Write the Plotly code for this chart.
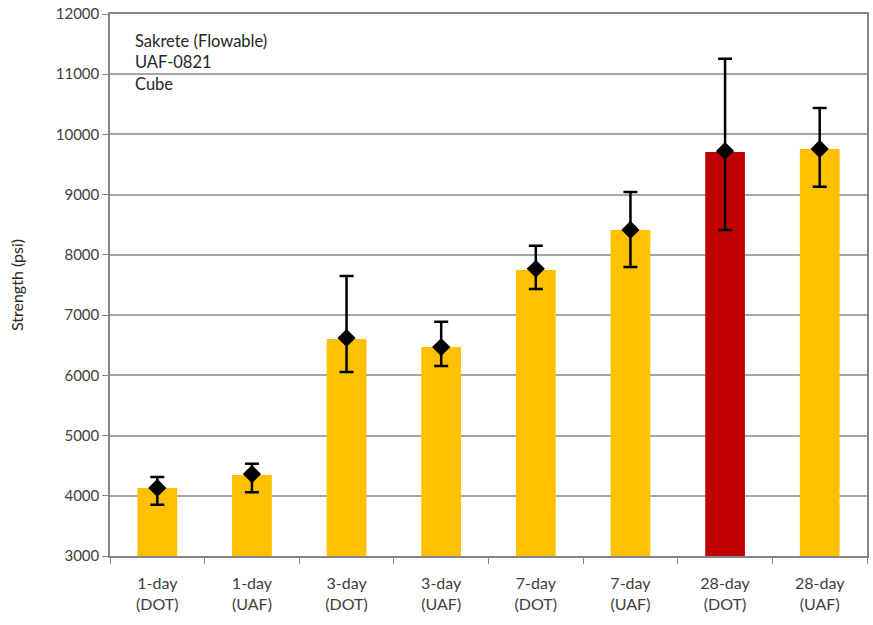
import plotly.graph_objects as go

categories = ["1-day<br>(DOT)", "1-day<br>(UAF)", "3-day<br>(DOT)", "3-day<br>(UAF)",
              "7-day<br>(DOT)", "7-day<br>(UAF)", "28-day<br>(DOT)", "28-day<br>(UAF)"]
bar_values = [4130, 4345, 6605, 6470, 7750, 8415, 9710, 9760]
mean_values = [4130, 4360, 6620, 6470, 7770, 8415, 9725, 9760]
upper_values = [4310, 4530, 7650, 6890, 8150, 9045, 11255, 10440]
lower_values = [3850, 4060, 6055, 6155, 7435, 7800, 8415, 9130]
bar_colors = ["#FFC000", "#FFC000", "#FFC000", "#FFC000",
              "#FFC000", "#FFC000", "#C00000", "#FFC000"]
y_ticks = [3000, 4000, 5000, 6000, 7000, 8000, 9000, 10000, 11000, 12000]
y_tick_labels = [str(v) for v in y_ticks]

err_plus = [u - m for u, m in zip(upper_values, mean_values)]
err_minus = [m - l for m, l in zip(mean_values, lower_values)]

font_family = "Lato, 'Open Sans', sans-serif"

fig = go.Figure()
fig.add_trace(go.Bar(
    x=categories, y=bar_values, base=0,
    marker=dict(color=bar_colors, line=dict(width=0)),
    showlegend=False, hoverinfo="skip",
))
fig.add_trace(go.Scatter(
    x=categories, y=mean_values, mode="markers",
    marker=dict(symbol="diamond", size=14, color="black"),
    error_y=dict(type="data", symmetric=False, array=err_plus, arrayminus=err_minus,
                 color="black", thickness=2.5, width=7),
    showlegend=False,
))

fig.update_layout(
    width=873, height=625,
    margin=dict(l=110, r=6, t=14, b=69, autoexpand=False),
    paper_bgcolor="white", plot_bgcolor="white",
    bargap=0.58,
    font=dict(family=font_family, size=16, color="#404040"),
    xaxis=dict(
        type="category", tickson="boundaries", ticks="outside", ticklen=6,
        tickcolor="#868686", showline=True, linecolor="#868686", linewidth=1.5,
        mirror=True, showgrid=False, tickfont=dict(size=16, color="#404040"),
        ticklabelstandoff=12, automargin=False,
    ),
    yaxis=dict(
        range=[3000, 12000], tickvals=y_ticks, ticktext=y_tick_labels,
        ticks="outside", ticklen=6, ticklabeloverflow="allow",
        tickcolor="#868686", showline=True, linecolor="#868686", linewidth=1.5,
        mirror=True, showgrid=True, gridcolor="#A6A6A6", gridwidth=1.5,
        tickfont=dict(size=15, color="#404040"), automargin=False,
        title=dict(text="Strength (psi)", font=dict(size=16, color="#262626"), standoff=28),
        zeroline=False,
    ),
    annotations=[dict(
        x=(133 - 110) / 757, y=0.972, xref="paper", yref="paper", xanchor="left", yanchor="top",
        text="Sakrete (Flowable)<br>UAF-0821<br>Cube", showarrow=False, align="left",
        font=dict(size=16.5, color="#262626"),
    )],
)

fig.write_html("out.html", config={"displayModeBar": False},
               post_script="document.body.style.margin='0';")
